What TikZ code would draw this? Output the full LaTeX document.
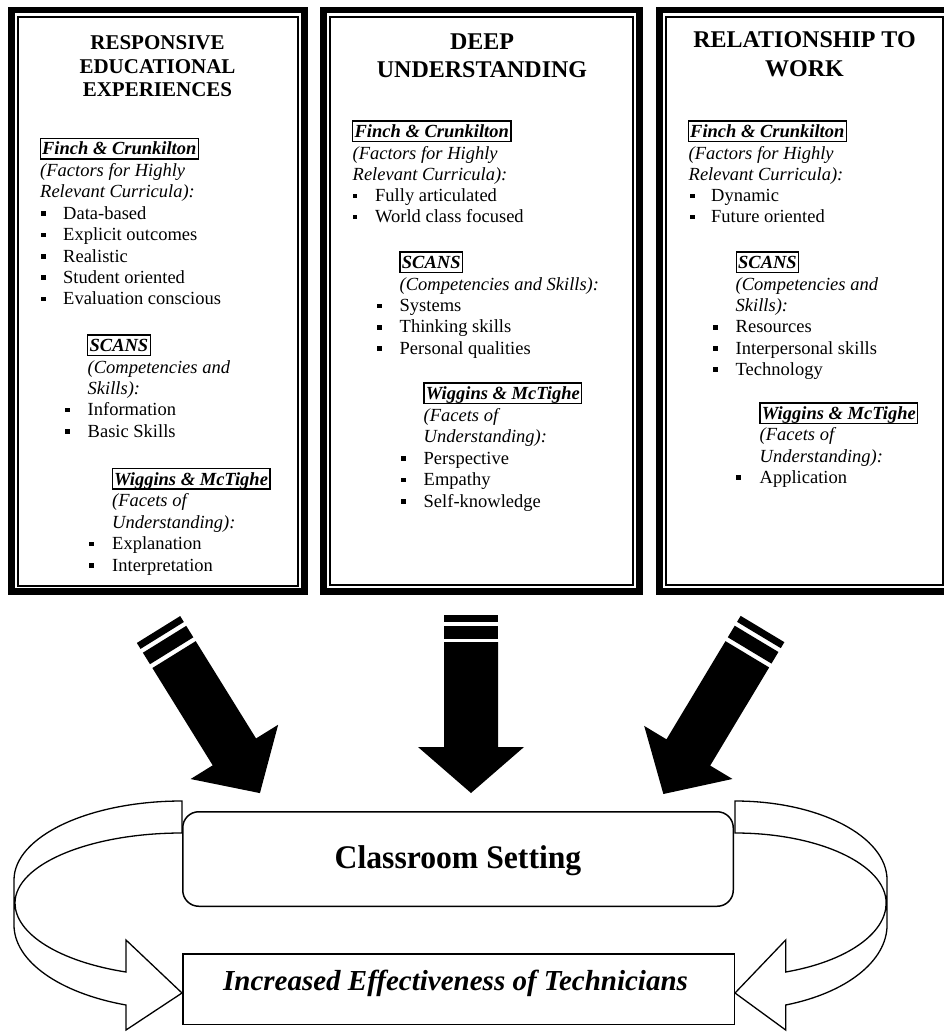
\documentclass[tikz,border=0pt]{standalone}
\usepackage{fontspec}
\setmainfont{Liberation Serif}
\tikzset{
 t21/.style={font=\fontsize{21}{23.5}\selectfont\bfseries, anchor=base, inner sep=0},
 t24/.style={font=\fontsize{24}{27}\selectfont\bfseries, anchor=base, inner sep=0},
 bodytxt/.style={font=\fontsize{18.5}{21}\selectfont, anchor=base west, inner sep=0},
 itxt/.style={bodytxt, font=\fontsize{18.5}{21}\selectfont\itshape},
 hbox/.style={draw, line width=1.3, font=\fontsize{18.5}{21}\selectfont\bfseries\itshape, anchor=base west, inner xsep=2, inner ysep=1.5, text height=15, text depth=2.5},
 bul/.style={fill, rectangle, inner sep=0, minimum size=4.8},
 oframe/.style={draw, line width=6.7, inner sep=0},
 iframe/.style={draw, line width=2, inner sep=0},
 blk/.style={fill=black},
 curvarrow/.style={draw, fill=white, line width=1.3, line join=miter},
}
\newcommand{\bitem}[5]{\node[bul] (#1b) at (#2,#4-5.5) {}; \node[bodytxt] (#1) at (#3,#4) {#5};}
\newcommand{\sidearrow}{%
 \fill[blk] (-25.5,0) rectangle (25.5,7);
 \fill[blk] (-25.5,11.5) rectangle (25.5,25);
 \fill[blk] (-25.5,29.5) -- (25.5,29.5) -- (25.5,144) -- (51.5,144) -- (0,192.5) -- (-51.5,144) -- (-25.5,144) -- cycle;}
\newcommand{\uturnpath}{%
 \path[curvarrow] (0,801) .. controls (-92.8,801) and (-168,836.4) .. (-168,880)
  -- (-168,925) .. controls (-168,961) and (-123,993) .. (-56,1005)
  -- (-56,1030) -- (0,993) -- (-56,940) -- (-56,972)
  .. controls (-122.5,961.6) and (-167,933.9) .. (-167,903)
  .. controls (-167,864.3) and (-92.2,833) .. (0,833) -- cycle;}
\begin{document}
\begin{tikzpicture}[x=1pt,y=-1pt]
\useasboundingbox (0,0) rectangle (943,1032);
\fill[white] (0,0) rectangle (943,1032);
% ---------- frames ----------
\node[oframe, minimum width=293.3, minimum height=581.6] (boxL) at (158,300.85) {};
\node[iframe, minimum width=280, minimum height=568.8] (boxLi) at (158,301.1) {};
\node[oframe, minimum width=316.3, minimum height=581.1] (boxM) at (481.5,300.6) {};
\node[iframe, minimum width=303, minimum height=568.3] (boxMi) at (481.5,300.85) {};
\node[oframe, minimum width=290.3, minimum height=581.1] (boxR) at (804.5,300.6) {};
\node[iframe, minimum width=277, minimum height=568.3] (boxRi) at (804.5,300.85) {};
% ---------- left column ----------
\node[t21] (lt1) at (157.5,50) {RESPONSIVE};
\node[t21] (lt2) at (157.5,73.5) {EDUCATIONAL};
\node[t21] (lt3) at (157.5,97) {EXPERIENCES};
\node[hbox] (lf) at (39.5,155) {Finch \& Crunkilton};
\node[itxt] (lf1) at (40,177) {(Factors for Highly};
\node[itxt] (lf2) at (40,198) {Relevant Curricula):};
\bitem{la1}{43.5}{63}{219}{Data-based}
\bitem{la2}{43.5}{63}{240.5}{Explicit outcomes}
\bitem{la3}{43.5}{63}{262}{Realistic}
\bitem{la4}{43.5}{63}{283}{Student oriented}
\bitem{la5}{43.5}{63}{304.5}{Evaluation conscious}
\node[hbox] (ls) at (87,351.5) {SCANS};
\node[itxt] (ls1) at (87.5,373) {(Competencies and};
\node[itxt] (ls2) at (87.5,394.5) {Skills):};
\bitem{lb1}{67.5}{87.5}{415.5}{Information}
\bitem{lb2}{67.5}{87.5}{437}{Basic Skills}
\node[hbox] (lw) at (111.5,485) {Wiggins \& McTighe};
\node[itxt] (lw1) at (112,506.5) {(Facets of};
\node[itxt] (lw2) at (112,528) {Understanding):};
\bitem{lc1}{91.5}{112}{549.5}{Explanation}
\bitem{lc2}{91.5}{112}{571}{Interpretation}
% ---------- middle column ----------
\node[t24] (mt1) at (482,50) {DEEP};
\node[t24] (mt2) at (482,77.3) {UNDERSTANDING};
\node[hbox] (mf) at (352,137.5) {Finch \& Crunkilton};
\node[itxt] (mf1) at (352.5,159.5) {(Factors for Highly};
\node[itxt] (mf2) at (352.5,180.5) {Relevant Curricula):};
\bitem{ma1}{355}{375}{201.5}{Fully articulated}
\bitem{ma2}{355}{375}{222.5}{World class focused}
\node[hbox] (ms) at (399.3,268.5) {SCANS};
\node[itxt] (ms1) at (399.5,290) {(Competencies and Skills):};
\bitem{mb1}{379.2}{399.5}{311.5}{Systems}
\bitem{mb2}{379.2}{399.5}{332.8}{Thinking skills}
\bitem{mb3}{379.2}{399.5}{354}{Personal qualities}
\node[hbox] (mw) at (423.3,399.5) {Wiggins \& McTighe};
\node[itxt] (mw1) at (423.5,421) {(Facets of};
\node[itxt] (mw2) at (423.5,442.5) {Understanding):};
\bitem{mc1}{403.5}{423.5}{464}{Perspective}
\bitem{mc2}{403.5}{423.5}{485.5}{Empathy}
\bitem{mc3}{403.5}{423.5}{507}{Self-knowledge}
% ---------- right column ----------
\node[t24] (rt1) at (804.5,48) {RELATIONSHIP TO};
\node[t24] (rt2) at (804.5,76.5) {WORK};
\node[hbox] (rf) at (687.5,137.5) {Finch \& Crunkilton};
\node[itxt] (rf1) at (688.5,159.5) {(Factors for Highly};
\node[itxt] (rf2) at (688.5,180.5) {Relevant Curricula):};
\bitem{ra1}{692.5}{711}{201.5}{Dynamic}
\bitem{ra2}{692.5}{711}{222.5}{Future oriented}
\node[hbox] (rs) at (735.5,268.5) {SCANS};
\node[itxt] (rs1) at (735.5,290) {(Competencies and};
\node[itxt] (rs2) at (735.5,311.5) {Skills):};
\bitem{rb1}{715.8}{735.5}{332.8}{Resources}
\bitem{rb2}{715.8}{735.5}{354}{Interpersonal skills}
\bitem{rb3}{715.8}{735.5}{375.3}{Technology}
\node[hbox] (rw) at (759.3,419.5) {Wiggins \& McTighe};
\node[itxt] (rw1) at (759.5,440.7) {(Facets of};
\node[itxt] (rw2) at (759.5,462) {Understanding):};
\bitem{rc1}{738.5}{759.5}{483.3}{Application}
% ---------- block arrows ----------
\begin{scope}[shift={(471,615)}]
 \fill[blk] (-27,0) rectangle (27,7);
 \fill[blk] (-27,11) rectangle (27,24);
 \fill[blk] (-27,27) -- (27,27) -- (27,132) -- (53,132) -- (0,178) -- (-53,132) -- (-27,132) -- cycle;
\end{scope}
\begin{scope}[shift={(158.5,629.5)}, rotate=31.8]
 \sidearrow
\end{scope}
\begin{scope}[shift={(762.5,629)}, rotate=-31]
 \sidearrow
\end{scope}
% ---------- U-turn arrows ----------
\begin{scope}[shift={(182,0)}]
 \uturnpath
\end{scope}
\begin{scope}[shift={(735,0)}, xscale=-0.905]
 \uturnpath
\end{scope}
% ---------- bottom boxes ----------
\node[draw, fill=white, line width=1.5, rounded corners=16, minimum width=550.5, minimum height=94.5, inner sep=0] (cs) at (458,859) {};
\node[font=\fontsize{33}{36}\selectfont\bfseries, anchor=base, inner sep=0] (cst) at (458,868) {\scalebox{0.96}[1]{Classroom Setting}};
\node[draw, fill=white, line width=1.5, minimum width=551.5, minimum height=70.5, inner sep=0] (ie) at (458.5,989) {};
\node[font=\fontsize{29}{32}\selectfont\bfseries\itshape, anchor=base, inner sep=0] (iet) at (455.5,990.5) {Increased Effectiveness of Technicians};
\end{tikzpicture}
\end{document}
